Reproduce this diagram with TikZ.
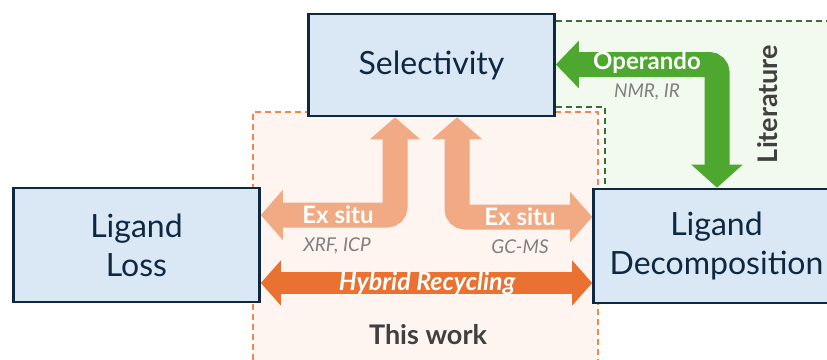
\documentclass[tikz,border=0pt]{standalone}
\usepackage{fontspec}
\setmainfont{Lato}
\usetikzlibrary{arrows.meta}
\definecolor{boxfill}{HTML}{DAE8F6}
\definecolor{boxline}{HTML}{0E2841}
\definecolor{exc}{HTML}{F2AA84}
\definecolor{hyc}{HTML}{E97132}
\definecolor{grc}{HTML}{4EA72E}
\definecolor{grfill}{HTML}{F2F9EE}
\definecolor{grdash}{HTML}{3B6E2A}
\definecolor{orfill}{HTML}{FEF4F0}
\definecolor{ordash}{HTML}{EE8752}
\definecolor{graytxt}{HTML}{7F7F7F}
\definecolor{darktxt}{HTML}{404040}
\tikzset{
  mainbox/.style={draw=boxline, fill=boxfill, line width=2.6pt, minimum width=246pt, minimum height=102pt, align=center, text=boxline, font=\fontsize{32}{39}\selectfont, inner sep=0pt},
  exarrow/.style={draw=exc, line width=25pt, rounded corners=8pt, {Triangle[width=49pt,length=22pt]}-{Triangle[width=49pt,length=22pt]}},
  hyarrow/.style={draw=hyc, line width=22pt, {Triangle[width=44pt,length=20pt]}-{Triangle[width=44pt,length=20pt]}},
  grarrow/.style={draw=grc, line width=25pt, rounded corners=8pt, {Triangle[width=46pt,length=23pt]}-{Triangle[width=50pt,length=23pt]}},
  shaftlabel/.style={text=white, font=\bfseries\fontsize{24}{26}\selectfont, inner sep=0pt},
  methlabel/.style={text=graytxt, font=\itshape\fontsize{19}{22}\selectfont, inner sep=0pt},
  heavylabel/.style={text=darktxt, font=\bfseries\fontsize{27}{30}\selectfont, inner sep=0pt},
  dashln/.style={line width=1.4pt, dash pattern=on 6pt off 4pt}
}
\begin{document}
\begin{tikzpicture}[x=1pt,y=-1pt]
\useasboundingbox (0,0) rectangle (827,359);
% regions
\fill[orfill] (253,112) rectangle (598,380);
\draw[ordash, dashln] (253,380) -- (253,112) -- (598,112) -- (598,380);
\fill[grfill] (556,21) -- (850,21) -- (850,190) -- (605,190) -- (605,107) -- (556,107) -- cycle;
\draw[grdash, dashln] (556,21) -- (850,21);
\draw[grdash, dashln] (556,107) -- (605,107) -- (605,190);
% boxes
\node[mainbox] (sel) at (431.5,65) {Selectivity};
\node[mainbox, minimum height=114pt] (loss) at (136.5,245) {Ligand\\Loss};
\node[mainbox, minimum height=114pt] (dec) at (716.5,246) {Ligand\\Decomposition};
% arrows
\draw[exarrow] (loss.east |- 0,215) -| (sel.south -| 395,0);
\draw[exarrow] (sel.south -| 457,0) |- (dec.west |- 0,217);
\draw[hyarrow] (loss.east |- 0,283) -- (dec.west |- 0,283);
\draw[grarrow] (sel.east |- 0,64.5) -| (dec.north -| 717,0);
% labels
\node[shaftlabel] (ex1) at (338,215) {Ex situ};
\node[shaftlabel] (ex2) at (520,217) {Ex situ};
\node[methlabel] (m1) at (337,246) {XRF, ICP};
\node[methlabel] (m2) at (520,247) {GC-MS};
\node[shaftlabel, font=\bfseries\itshape\fontsize{25}{26}\selectfont] (hy) at (427,283) {Hybrid Recycling};
\node[shaftlabel] (op) at (647,63) {Operando};
\node[methlabel] (m3) at (647,92) {NMR, IR};
\node[heavylabel, rotate=90] (lit) at (768,104) {Literature};
\node[heavylabel] (tw) at (428,335) {This work};
\end{tikzpicture}
\end{document}
